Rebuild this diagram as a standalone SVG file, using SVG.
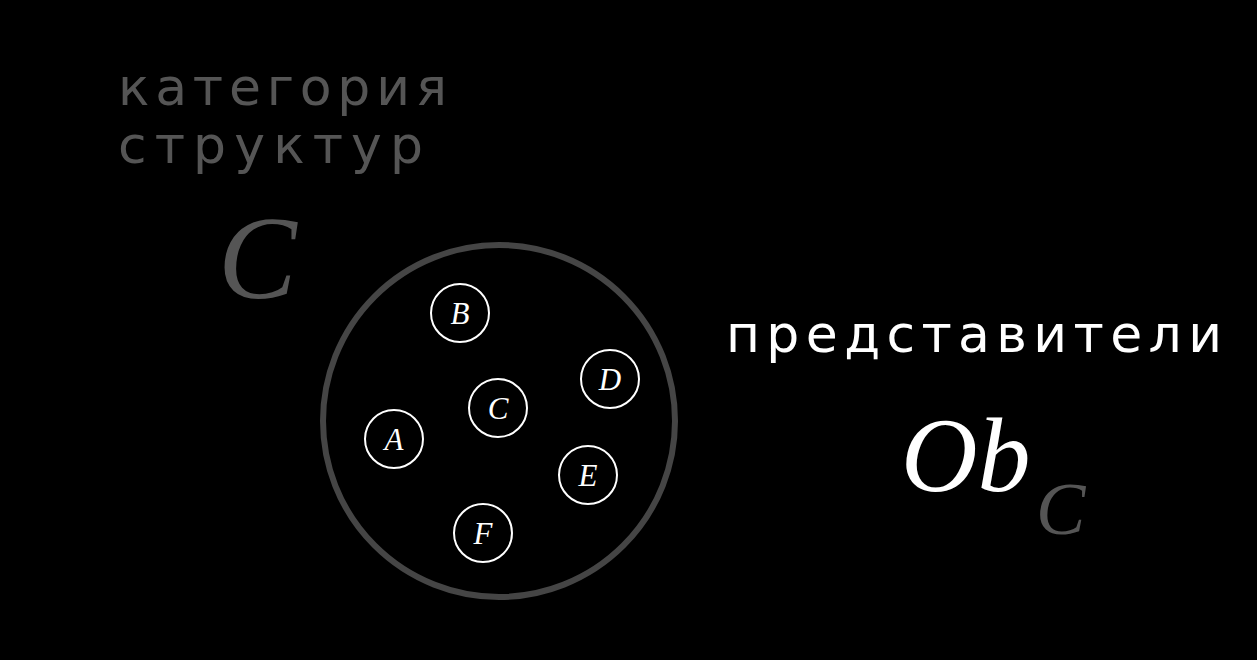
<svg xmlns="http://www.w3.org/2000/svg" width="1257" height="660" viewBox="0 0 1257 660">
<style>
.label{font-family:"DejaVu Sans","Liberation Sans",sans-serif;}
.gray{fill:#555555;}
.white{fill:#ffffff;}
.math{font-family:"Liberation Serif","DejaVu Serif",serif;font-style:italic;}
.node circle{fill:none;stroke:#ffffff;stroke-width:2;}
.node text{font-family:"Liberation Serif","DejaVu Serif",serif;font-style:italic;font-size:31px;fill:#ffffff;text-anchor:middle;}
</style>
<rect width="1257" height="660" fill="#000000"/>
<g id="title">
<text class="label gray" x="118" y="105" font-size="52" textLength="329" lengthAdjust="spacing">категория</text>
<text class="label gray" x="118" y="163" font-size="52" textLength="305" lengthAdjust="spacing">структур</text>
</g>
<text id="catC" class="math gray" x="218" y="298" font-size="118">C</text>
<g id="category">
<circle cx="499" cy="421" r="176" fill="none" stroke="#454545" stroke-width="6"/>
</g>
<g id="node-B" class="node"><circle cx="460" cy="313" r="29"/><text x="460" y="324">B</text></g>
<g id="node-D" class="node"><circle cx="610" cy="379" r="29"/><text x="610" y="390">D</text></g>
<g id="node-C" class="node"><circle cx="498" cy="408" r="29"/><text x="498" y="419">C</text></g>
<g id="node-A" class="node"><circle cx="394" cy="439" r="29"/><text x="394" y="450">A</text></g>
<g id="node-E" class="node"><circle cx="588" cy="475" r="29"/><text x="588" y="486">E</text></g>
<g id="node-F" class="node"><circle cx="483" cy="533" r="29"/><text x="483" y="544">F</text></g>
<g id="connectors"></g>
<g id="objects">
<text class="label white" x="726" y="352" font-size="52" textLength="496" lengthAdjust="spacing">представители</text>
<text class="math white" x="901" y="491" font-size="106">Ob</text>
<text class="math gray" x="1036" y="534" font-size="74">C</text>
</g>
</svg>
